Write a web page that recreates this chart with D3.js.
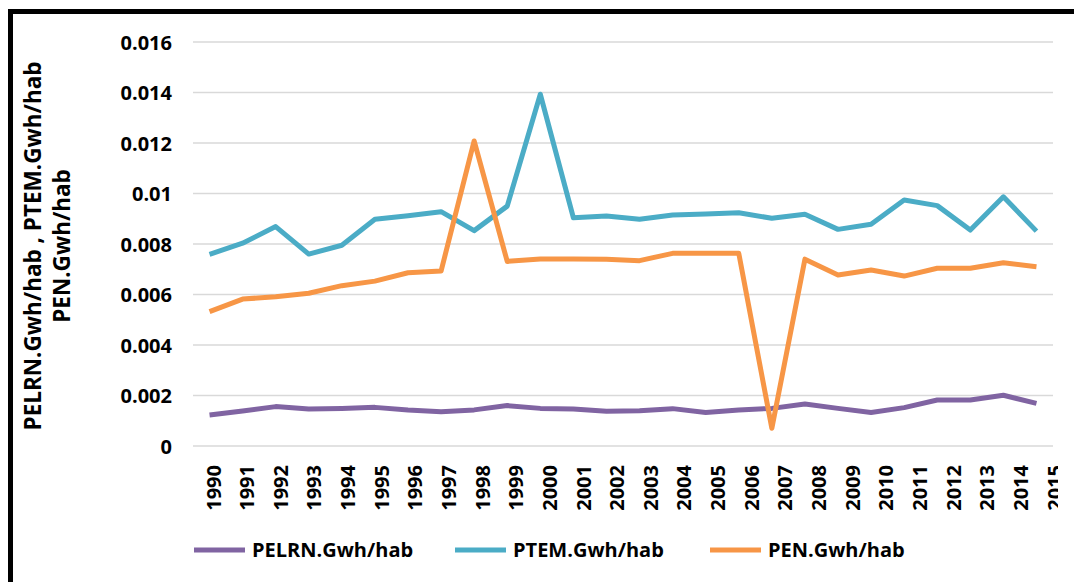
<!DOCTYPE html>
<html>
<head>
<meta charset="utf-8">
<script src="https://cdn.jsdelivr.net/npm/d3@7"></script>
<style>
  body { margin: 0; background: #fff; }
  text { font-family: "Open Sans", sans-serif; font-weight: 700; fill: #000; }
</style>
</head>
<body>
<svg id="chart"></svg>
<script>
let years = d3.range(1990, 2016).map(String);
let yTicks = [0, 0.002, 0.004, 0.006, 0.008, 0.01, 0.012, 0.014, 0.016];
let pelrn = [0.00123, 0.00139, 0.00156, 0.00147, 0.00149, 0.00153, 0.00143, 0.00136, 0.00143, 0.0016,
    0.00149, 0.00147, 0.00138, 0.0014, 0.00148, 0.00133, 0.00143, 0.00149, 0.00166, 0.00149,
    0.00133, 0.00152, 0.00182, 0.00182, 0.00201, 0.00169];
let ptem = [0.00759, 0.00803, 0.00869, 0.0076, 0.00795, 0.00898, 0.00912, 0.00928, 0.00853, 0.0095,
    0.01393, 0.00904, 0.00911, 0.00898, 0.00915, 0.00919, 0.00924, 0.00902, 0.00918, 0.00858,
    0.00878, 0.00974, 0.00952, 0.00855, 0.00987, 0.00851];
let pen = [0.00532, 0.00582, 0.00591, 0.00605, 0.00635, 0.00653, 0.00686, 0.00693, 0.01208, 0.00731,
    0.00741, 0.00741, 0.0074, 0.00734, 0.00763, 0.00763, 0.00763, 0.0007, 0.0074, 0.00677,
    0.00697, 0.00673, 0.00704, 0.00704, 0.00726, 0.0071];
let seriesNames = ["PELRN.Gwh/hab", "PTEM.Gwh/hab", "PEN.Gwh/hab"];
let seriesColors = ["#8064a2", "#4bacc6", "#f79646"];

function drawChart() {
    let width = 1074, height = 582;
    let svg = d3.select("#chart").attr("width", width).attr("height", height);

    // frame (only the top and left edges are visible in the picture)
    svg.append("line").attr("x1", 10.5).attr("x2", width).attr("y1", 11.5).attr("y2", 11.5)
        .attr("stroke", "#000").attr("stroke-width", 5);
    svg.append("line").attr("x1", 10.5).attr("x2", 10.5).attr("y1", 9).attr("y2", height)
        .attr("stroke", "#000").attr("stroke-width", 5);

    let x = d3.scaleBand().domain(years).range([193, 1053]);
    let xLabel = d3.scalePoint().domain(years).range([213, 1054]);
    let y = d3.scaleLinear().domain([0, 0.016]).range([446, 42]);

    // grid + y labels
    let yAxis = d3.axisLeft(y).tickValues(yTicks).tickSize(0).tickPadding(0)
        .tickFormat(d => d === 0 ? "0" : String(+d.toFixed(3)));
    let yg = svg.append("g").attr("transform", "translate(172,0)").call(yAxis);
    yg.select(".domain").remove();
    yg.selectAll("text").attr("font-size", 20).attr("dy", "0.35em");

    svg.append("g").selectAll("line").data(yTicks).enter().append("line")
        .attr("x1", 193).attr("x2", 1053)
        .attr("y1", d => y(d)).attr("y2", d => y(d))
        .attr("stroke", "#d9d9d9").attr("stroke-width", 1.5);

    // x labels (rotated), clipped at the right like the original
    svg.append("clipPath").attr("id", "xclip").append("rect")
        .attr("x", 0).attr("y", 440).attr("width", 1058).attr("height", 100);
    let xAxis = d3.axisBottom(xLabel).tickSize(0).tickPadding(0);
    let xg = svg.append("g").attr("clip-path", "url(#xclip)")
        .append("g").attr("transform", "translate(0,465)").call(xAxis);
    xg.select(".domain").remove();
    xg.selectAll("text")
        .attr("font-size", 20)
        .attr("transform", "rotate(-90)")
        .attr("text-anchor", "end")
        .attr("x", 0).attr("y", 0).attr("dy", "0.35em");

    // lines
    let allSeries = [pelrn, ptem, pen];
    let line = d3.line()
        .x((d, i) => x(years[i]) + x.bandwidth() / 2)
        .y(d => y(d));
    allSeries.forEach(function (vals, k) {
        svg.append("path").datum(vals)
            .attr("d", line)
            .attr("fill", "none")
            .attr("stroke", seriesColors[k])
            .attr("stroke-width", 5)
            .attr("stroke-linejoin", "round");
    });

    // y title
    let title = svg.append("text")
        .attr("transform", "translate(33,246) rotate(-90)")
        .attr("text-anchor", "middle")
        .attr("font-size", 22.5);
    title.append("tspan").attr("x", 0).attr("dy", "0.35em").text("PELRN.Gwh/hab , PTEM.Gwh/hab");
    title.append("tspan").attr("x", 0).attr("dy", "1.3em").text("PEN.Gwh/hab");

    // legend
    let legendX = [194, 455, 710];
    let lg = svg.append("g").selectAll("g").data(seriesNames).enter().append("g")
        .attr("transform", (d, i) => "translate(" + legendX[i] + ",550)");
    lg.append("line").attr("x1", 0).attr("x2", 51).attr("y1", 0).attr("y2", 0)
        .attr("stroke", (d, i) => seriesColors[i]).attr("stroke-width", 5);
    lg.append("text").attr("x", 58).attr("dy", "0.35em").attr("font-size", 20).text(d => d);
}

drawChart();
</script>
</body>
</html>
